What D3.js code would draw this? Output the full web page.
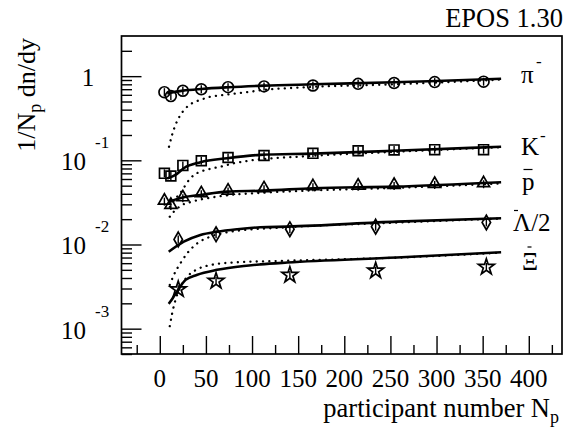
<!DOCTYPE html>
<html>
<head>
<meta charset="utf-8">
<script src="https://cdn.jsdelivr.net/npm/d3@7/dist/d3.min.js"></script>
<style>
body{margin:0;background:#fff;}
svg{display:block;font-family:"Liberation Serif","Times New Roman",serif;}
</style>
</head>
<body>
<svg id="chart" width="566" height="431"></svg>
<script>
// participant numbers of the data points
var npartFull = [5, 12, 25, 45, 74, 113, 166, 215, 254, 298, 351];
var npartHyp = [20, 61, 141, 234, 354];

// measured 1/Np dn/dy
var piData = [0.645, 0.58, 0.67, 0.70, 0.74, 0.755, 0.775, 0.81, 0.83, 0.85, 0.86];
var kData = [0.070, 0.065, 0.087, 0.099, 0.108, 0.114, 0.121, 0.130, 0.133, 0.134, 0.134];
var pbarData = [0.0323, 0.0287, 0.0354, 0.0395, 0.0425, 0.0453, 0.0479, 0.0487, 0.0496, 0.051, 0.052];
var lambdaData = [0.0115, 0.0132, 0.0152, 0.0163, 0.0183];
var xiData = [0.00293, 0.00368, 0.00434, 0.00488, 0.0054];

// EPOS curves, full (solid) and without core (dotted) : [Npart, value]
var piSolid = [[8,0.627],[25,0.673],[45,0.705],[74,0.738],[113,0.771],[166,0.80],[254,0.846],[300,0.875],[370,0.93]];
var piDotted = [[10,0.145],[13.3,0.2],[17,0.263],[22.4,0.346],[28,0.415],[35,0.477],[44,0.522],[55,0.57],[70,0.598],[84,0.626],[98,0.654],[110,0.68],[160,0.74],[255,0.80],[370,0.91]];
var kSolid = [[8,0.061],[17,0.067],[26,0.0805],[44,0.095],[73,0.106],[109,0.116],[166,0.12],[254,0.13],[370,0.145]];
var kDotted = [[11,0.028],[16,0.034],[22.4,0.041],[28,0.051],[31.6,0.0583],[37,0.0668],[44.3,0.0735],[53.4,0.0786],[66.3,0.0843],[80.7,0.0925],[95.2,0.0984],[160,0.112],[254,0.126],[370,0.143]];
var pbarSolid = [[9.7,0.0323],[26,0.0364],[44,0.0388],[73,0.0425],[113,0.0436],[166,0.0466],[254,0.0487],[370,0.055]];
var pbarDotted = [[10.8,0.0214],[15.2,0.0245],[22.4,0.0287],[35,0.0323],[55,0.036],[76.5,0.0388],[101.7,0.0406],[159.5,0.0436],[246,0.0466],[370,0.053]];
var lambdaSolid = [[9.7,0.0082],[26,0.0108],[44,0.013],[62,0.0142],[84,0.0152],[109,0.016],[138,0.0163],[257,0.0187],[370,0.0205]];
var lambdaDotted = [[10.8,0.0033],[15.2,0.00434],[22.4,0.0060],[29.7,0.00785],[40.5,0.0103],[54.9,0.0124],[76.5,0.0142],[137.9,0.016],[257,0.0182],[370,0.0203]];
var xiSolid = [[9.7,0.00197],[14,0.0023],[19,0.0028],[28,0.0038],[40,0.00435],[62,0.005],[91,0.00556],[109,0.0058],[138,0.0061],[257,0.007],[370,0.0081]];
var xiDotted = [[10.8,0.00107],[13.4,0.00152],[17,0.00219],[22.4,0.00315],[29.7,0.00414],[40.5,0.00507],[54.9,0.0057],[76.5,0.00608],[137.9,0.00641],[257,0.00697],[370,0.008]];

// axis ticks
var xTickValues = [0, 50, 100, 150, 200, 250, 300, 350, 400];
var xMinorValues = [-25, 25, 75, 125, 175, 225, 275, 325, 375, 425];
var yLabelValues = [1, 0.1, 0.01, 0.001];
var yLabelExp = ['', '-1', '-2', '-3'];

var svg = d3.select('#chart');
var x = d3.scaleLinear().domain([-41.5, 436]).range([121.5, 562]);
var y = d3.scaleLog().domain([5e-4, 3]).range([354, 36]);

// series table
var series = [
	{npart: npartFull, vals: piData, solid: piSolid, dotted: piDotted, sym: d3.symbolCircle, size: 92},
	{npart: npartFull, vals: kData, solid: kSolid, dotted: kDotted, sym: d3.symbolSquare, size: 96},
	{npart: npartFull, vals: pbarData, solid: pbarSolid, dotted: pbarDotted, sym: d3.symbolTriangle, size: 62},
	{npart: npartHyp, vals: lambdaData, solid: lambdaSolid, dotted: lambdaDotted, sym: d3.symbolDiamond, size: 62},
	{npart: npartHyp, vals: xiData, solid: xiSolid, dotted: xiDotted, sym: d3.symbolStar, size: 78}
];

var line = d3.line()
	.x(function(d){ return x(d[0]); })
	.y(function(d){ return y(d[1]); })
	.curve(d3.curveMonotoneX);

var plot = svg.append('g').attr('class', 'plot');

series.forEach(function(s){
	plot.append('path')
		.attr('d', line(s.dotted))
		.attr('fill', 'none')
		.attr('stroke', '#000')
		.attr('stroke-width', 2.3)
		.attr('stroke-linecap', 'round')
		.attr('stroke-dasharray', '0.1,6.2');
	plot.append('path')
		.attr('d', line(s.solid))
		.attr('fill', 'none')
		.attr('stroke', '#000')
		.attr('stroke-width', 2.6);
});

series.forEach(function(s){
	var pts = s.npart.map(function(n, i){ return [n, s.vals[i]]; });
	var g = plot.append('g');
	// small error bars inside the markers
	g.selectAll('line.err')
		.data(pts)
		.enter()
		.append('line')
		.attr('class', 'err')
		.attr('x1', function(d){ return x(d[0]); })
		.attr('x2', function(d){ return x(d[0]); })
		.attr('y1', function(d){ return y(d[1]) - 4; })
		.attr('y2', function(d){ return y(d[1]) + 4; })
		.attr('stroke', '#000')
		.attr('stroke-width', 1.4);
	g.selectAll('path.mk')
		.data(pts)
		.enter()
		.append('path')
		.attr('class', 'mk')
		.attr('d', d3.symbol().type(s.sym).size(s.size))
		.attr('transform', function(d){
			var dy = s.sym === d3.symbolTriangle ? -1 : 0;
			return 'translate(' + x(d[0]) + ',' + (y(d[1]) + dy) + ')';
		})
		.attr('fill', 'none')
		.attr('stroke', '#000')
		.attr('stroke-width', 1.7);
});

// frame
svg.append('rect')
	.attr('x', x.range()[0])
	.attr('y', y.range()[1])
	.attr('width', x.range()[1] - x.range()[0])
	.attr('height', y.range()[0] - y.range()[1])
	.attr('fill', 'none')
	.attr('stroke', '#000')
	.attr('stroke-width', 1.7);

// y ticks (pointing inward)
var yMinor = y.ticks().filter(function(v){
	var l = Math.log10(v);
	return Math.abs(l - Math.round(l)) > 1e-6 && v < 2.9;
});
var yAxisMajor = svg.append('g')
	.attr('transform', 'translate(' + x.range()[0] + ',0)')
	.call(d3.axisLeft(y).tickValues(yLabelValues).tickSize(-20).tickFormat(''));
var yAxisMinor = svg.append('g')
	.attr('transform', 'translate(' + x.range()[0] + ',0)')
	.call(d3.axisLeft(y).tickValues(yMinor).tickSize(-10.5).tickFormat(''));

// x ticks (pointing inward)
var xAxisMajor = svg.append('g')
	.attr('transform', 'translate(0,' + y.range()[0] + ')')
	.call(d3.axisBottom(x).tickValues(xTickValues).tickSize(-18).tickFormat(''));
var xAxisMinor = svg.append('g')
	.attr('transform', 'translate(0,' + y.range()[0] + ')')
	.call(d3.axisBottom(x).tickValues(xMinorValues).tickSize(-9).tickFormat(''));

[yAxisMajor, yAxisMinor, xAxisMajor, xAxisMinor].forEach(function(a){
	a.select('.domain').remove();
	a.selectAll('line').attr('stroke', '#000').attr('stroke-width', 1.4);
});

// y tick labels
yLabelValues.forEach(function(v, i){
	if(yLabelExp[i] === ''){
		svg.append('text')
			.attr('x', 88)
			.attr('y', y(v) + 10)
			.attr('text-anchor', 'middle')
			.attr('font-size', 25)
			.text('1');
	}else{
		svg.append('text')
			.attr('x', 86)
			.attr('y', y(v) + 10)
			.attr('text-anchor', 'end')
			.attr('font-size', 25)
			.text('10');
		svg.append('text')
			.attr('x', 95)
			.attr('y', y(v) - 12)
			.attr('text-anchor', 'start')
			.attr('font-size', 17)
			.text(yLabelExp[i]);
	}
});

// x tick labels
svg.append('g').selectAll('text')
	.data(xTickValues)
	.enter()
	.append('text')
	.attr('x', function(d){ return x(d); })
	.attr('y', 387)
	.attr('text-anchor', 'middle')
	.attr('font-size', 25)
	.text(function(d){ return d; });

// axis titles
var xt = svg.append('text')
	.attr('x', 559)
	.attr('y', 417)
	.attr('text-anchor', 'end')
	.attr('font-size', 26.5);
xt.append('tspan').text('participant number N');
xt.append('tspan').attr('font-size', 18).attr('dy', 6).text('p');

var yt = svg.append('text')
	.attr('transform', 'translate(35,38) rotate(-90)')
	.attr('text-anchor', 'end')
	.attr('font-size', 26);
yt.append('tspan').text('1/N');
yt.append('tspan').attr('font-size', 18).attr('dy', 6).text('p');
yt.append('tspan').attr('dy', -6).text(' dn/dy');

svg.append('text')
	.attr('x', 563)
	.attr('y', 27)
	.attr('text-anchor', 'end')
	.attr('font-size', 26.5)
	.text('EPOS 1.30');

// particle labels at the right
var lab = svg.append('g').attr('font-size', 25);
lab.append('text').attr('x', 521).attr('y', 83).text('\u03c0');
lab.append('text').attr('x', 536).attr('y', 67).attr('font-size', 17).text('-');
lab.append('text').attr('x', 521).attr('y', 155).text('K');
lab.append('text').attr('x', 540).attr('y', 141).attr('font-size', 17).text('-');
lab.append('text').attr('x', 522).attr('y', 190).text('p');
lab.append('line').attr('x1', 523.5).attr('x2', 532.5).attr('y1', 169.5).attr('y2', 169.5).attr('stroke', '#000').attr('stroke-width', 1.2);
lab.append('text').attr('x', 513).attr('y', 231).text('\u039b/2');
lab.append('line').attr('x1', 514).attr('x2', 518).attr('y1', 210.5).attr('y2', 210.5).attr('stroke', '#000').attr('stroke-width', 1.2);
lab.append('text').attr('x', 522).attr('y', 270).text('\u039e');
lab.append('line').attr('x1', 527.5).attr('x2', 531.5).attr('y1', 247).attr('y2', 247).attr('stroke', '#000').attr('stroke-width', 1.2);
</script>
</body>
</html>
